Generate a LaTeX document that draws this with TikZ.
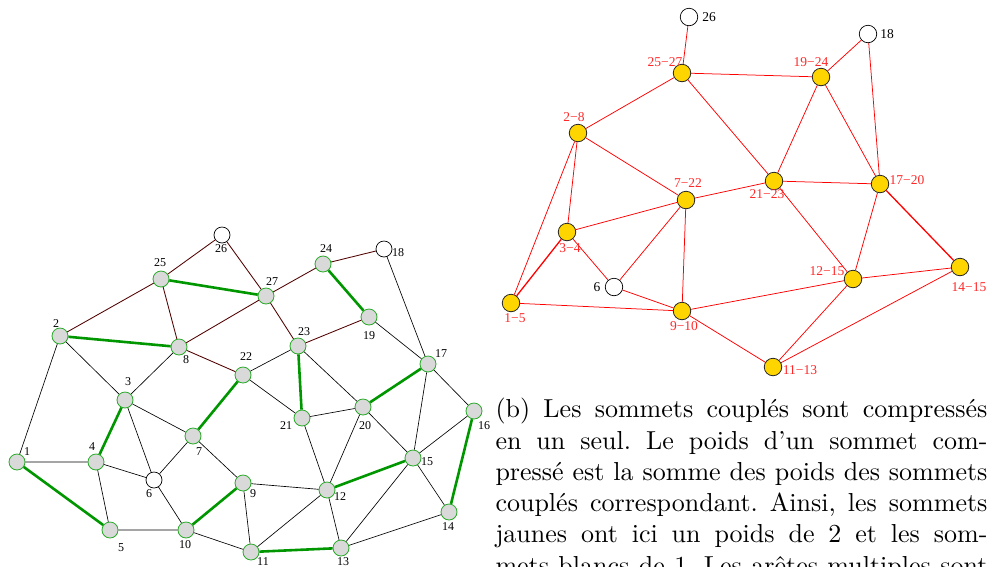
\documentclass[tikz,border=0pt]{standalone}
\usepackage{fontspec}
\newfontfamily\lblfont{Liberation Serif}
\definecolor{mgreen}{RGB}{0,150,0}
\definecolor{ngreen}{RGB}{40,170,40}
\definecolor{ngray}{RGB}{217,217,217}
\definecolor{dmaroon}{RGB}{80,0,0}
\definecolor{ygold}{RGB}{255,213,0}
\definecolor{lred}{RGB}{255,40,40}
\frenchspacing
\begin{document}
\begin{tikzpicture}[x=1pt,y=-1pt,
  vg/.style={circle,draw=ngreen,fill=ngray,line width=0.8pt,minimum size=16pt,inner sep=0pt},
  vw/.style={circle,draw=black,fill=white,line width=0.7pt,minimum size=16pt,inner sep=0pt},
  vy/.style={circle,draw=black!85,fill=ygold,line width=0.8pt,minimum size=17.5pt,inner sep=0pt},
  vwr/.style={circle,draw=black,fill=white,line width=0.7pt,minimum size=17.5pt,inner sep=0pt},
  lbl/.style={inner sep=0pt,font=\lblfont\fontsize{12}{12}\selectfont},
  rlbl/.style={inner sep=0pt,text=lred,font=\lblfont\fontsize{13.5}{13.5}\selectfont},
  blbl/.style={inner sep=0pt,text=black,font=\lblfont\fontsize{13.5}{13.5}\selectfont},
  eb/.style={black,line width=0.65pt},
  eg/.style={mgreen,line width=2.6pt},
  em/.style={dmaroon,line width=0.85pt},
  er/.style={red,line width=0.75pt},
  erd/.style={red,line width=1.3pt},
  txt/.style={inner sep=0pt,anchor=base west,scale=2.6}
]
\useasboundingbox (0,0) rectangle (989,566);
\clip (0,0) rectangle (989,566);

% ---------- left graph: vertices ----------
\node[vg] (a1) at (17,462) {};
\node[vg] (a2) at (60,336) {};
\node[vg] (a3) at (125,400) {};
\node[vg] (a4) at (96,462) {};
\node[vg] (a5) at (110,530) {};
\node[vw] (a6) at (154,480) {};
\node[vg] (a7) at (193,436) {};
\node[vg] (a8) at (179,347) {};
\node[vg] (a9) at (243,483) {};
\node[vg] (a10) at (186,530) {};
\node[vg] (a11) at (251,552) {};
\node[vg] (a12) at (327,490) {};
\node[vg] (a13) at (341,548) {};
\node[vg] (a14) at (449,512) {};
\node[vg] (a15) at (413,458) {};
\node[vg] (a16) at (474,411) {};
\node[vg] (a17) at (428,364) {};
\node[vw] (a18) at (384,249) {};
\node[vg] (a19) at (369,317) {};
\node[vg] (a20) at (363,407) {};
\node[vg] (a21) at (302,418) {};
\node[vg] (a22) at (243,375) {};
\node[vg] (a23) at (298,346) {};
\node[vg] (a24) at (323,264) {};
\node[vg] (a25) at (161,279) {};
\node[vw] (a26) at (222,235) {};
\node[vg] (a27) at (266,296) {};

% ---------- left graph: edges ----------
\draw[eb] (a1)--(a2) (a1)--(a4) (a2)--(a3) (a3)--(a8) (a3)--(a7) (a3)--(a6)
  (a4)--(a6) (a4)--(a5) (a5)--(a10) (a6)--(a7) (a6)--(a10) (a7)--(a9)
  (a10)--(a11) (a9)--(a11) (a9)--(a12) (a11)--(a12) (a12)--(a13) (a12)--(a21)
  (a12)--(a20) (a13)--(a15) (a13)--(a14) (a15)--(a20) (a15)--(a17) (a15)--(a16)
  (a15)--(a14) (a17)--(a19) (a17)--(a18) (a17)--(a16) (a21)--(a20) (a22)--(a21)
  (a22)--(a23) (a23)--(a20);
\draw[em] (a2)--(a25) (a25)--(a26) (a26)--(a27) (a25)--(a8) (a8)--(a27) (a8)--(a22)
  (a27)--(a24) (a24)--(a18) (a27)--(a23) (a23)--(a19);
\draw[eg] (a1)--(a5) (a2)--(a8) (a3)--(a4) (a7)--(a22) (a9)--(a10) (a11)--(a13)
  (a12)--(a15) (a14)--(a16) (a17)--(a20) (a19)--(a24) (a21)--(a23) (a25)--(a27);

% ---------- left graph: labels ----------
\node[lbl] (l1) at (27,452) {1};
\node[lbl] (l2) at (56,324) {2};
\node[lbl] (l3) at (128,382) {3};
\node[lbl] (l4) at (92,447) {4};
\node[lbl] (l5) at (121,548) {5};
\node[lbl] (l6) at (149,494) {6};
\node[lbl] (l7) at (199,452) {7};
\node[lbl] (l8) at (186,360) {8};
\node[lbl] (l9) at (253,494) {9};
\node[lbl] (l10) at (185,545) {10};
\node[lbl] (l11) at (263,562) {11};
\node[lbl] (l12) at (340,497) {12};
\node[lbl] (l13) at (343,562) {13};
\node[lbl] (l14) at (448,527) {14};
\node[lbl] (l15) at (427,462) {15};
\node[lbl] (l16) at (484,426) {16};
\node[lbl] (l17) at (441,354) {17};
\node[lbl] (l18) at (398,253) {18};
\node[lbl] (l19) at (369,336) {19};
\node[lbl] (l20) at (365,426) {20};
\node[lbl] (l21) at (286,426) {21};
\node[lbl] (l22) at (246,357) {22};
\node[lbl] (l23) at (304,332) {23};
\node[lbl] (l24) at (326,249) {24};
\node[lbl] (l25) at (160,263) {25};
\node[lbl] (l26) at (221,249) {26};
\node[lbl] (l27) at (272,282) {27};

% ---------- right graph: vertices ----------
\node[vwr] (b26) at (689,17) {};
\node[vy] (b2527) at (682,73) {};
\node[vy] (b1924) at (821,77) {};
\node[vwr] (b18) at (868,34) {};
\node[vy] (b28) at (578,133) {};
\node[vy] (b722) at (686,200) {};
\node[vy] (b2123) at (774,181) {};
\node[vy] (b1720) at (880,184) {};
\node[vy] (b34) at (567,232) {};
\node[vwr] (b6) at (614,287) {};
\node[vy] (b15) at (511,303) {};
\node[vy] (b910) at (682,311) {};
\node[vy] (b1215) at (853,279) {};
\node[vy] (b1415) at (960,267) {};
\node[vy] (b1113) at (773,367) {};

% ---------- right graph: edges ----------
\draw[er] (b26)--(b2527) (b2527)--(b1924) (b2527)--(b28) (b2527)--(b2123)
  (b1924)--(b18) (b1924)--(b2123) (b1924)--(b1720) (b18)--(b1720)
  (b28)--(b722) (b28)--(b34) (b28)--(b15) (b722)--(b2123) (b722)--(b34)
  (b722)--(b6) (b722)--(b910) (b2123)--(b1720) (b2123)--(b1215)
  (b1720)--(b1215) (b34)--(b6) (b15)--(b910) (b6)--(b910)
  (b910)--(b1215) (b910)--(b1113) (b1215)--(b1415) (b1215)--(b1113) (b1415)--(b1113);
\draw[erd] (b34)--(b15) (b1720)--(b1415);

% ---------- right graph: labels ----------
\node[blbl] (m26) at (709,17) {26};
\node[rlbl] (m2527) at (665,62) {25−27};
\node[rlbl] (m28) at (574,117) {2−8};
\node[rlbl] (m722) at (688,183) {7−22};
\node[rlbl] (m1924) at (811,62) {19−24};
\node[blbl] (m18) at (887,34) {18};
\node[rlbl] (m1720) at (907,180) {17−20};
\node[rlbl] (m2123) at (767,194) {21−23};
\node[rlbl] (m34) at (570,248) {3−4};
\node[blbl] (m6) at (597,287) {6};
\node[rlbl] (m15) at (515,318) {1−5};
\node[rlbl] (m910) at (684,326) {9−10};
\node[rlbl] (m1215) at (827,271) {12−15};
\node[rlbl] (m1415) at (969,287) {14−15};
\node[rlbl] (m1113) at (800,370) {11−13};

% ---------- caption text ----------
\node[txt] (t1) at (495,417.7) {\hbox to 189.2pt{(b) Les sommets couplés sont compressés}};
\node[txt] (t2) at (495,449.0) {\hbox to 189.2pt{en un seul. Le poids d'un sommet com-}};
\node[txt] (t3) at (495,480.3) {\hbox to 189.2pt{pressé est la somme des poids des sommets}};
\node[txt] (t4) at (495,511.6) {\hbox to 189.2pt{couplés correspondant. Ainsi, les sommets}};
\node[txt] (t5) at (495,542.9) {\hbox to 189.2pt{jaunes ont ici un poids de 2 et les som-}};
\node[txt] (t6) at (495,574.2) {\hbox to 189.2pt{mets blancs de 1. Les arêtes multiples sont}};
\end{tikzpicture}
\end{document}
